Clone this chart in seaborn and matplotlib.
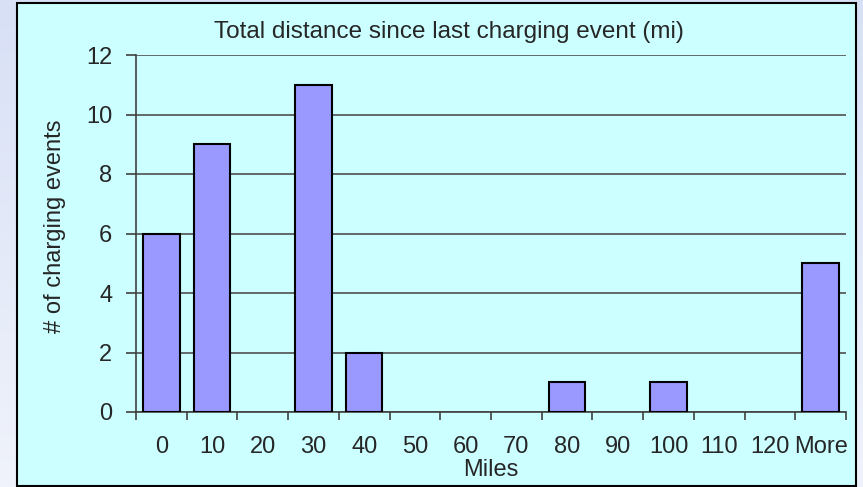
import numpy as np
import pandas as pd
import seaborn as sns
import matplotlib.pyplot as plt
from matplotlib.patches import Rectangle

# Histogram bins and counts
bins = ["0", "10", "20", "30", "40", "50", "60", "70", "80", "90", "100", "110", "120", "More"]
counts = [6, 9, 0, 11, 2, 0, 0, 0, 1, 0, 1, 0, 0, 5]
y_ticks = [0, 2, 4, 6, 8, 10, 12]

df = pd.DataFrame({"bin": bins, "count": counts})

sns.set_style("white")
plt.rcParams["font.family"] = ["Liberation Sans", "DejaVu Sans"]

fig = plt.figure(figsize=(8.63, 4.87), dpi=100)

# Gradient backdrop behind the chart area
bg = fig.add_axes([0, 0, 1, 1], zorder=-10)
grad = np.linspace(0, 1, 256)[:, None]
top_col = np.array([216, 224, 246]) / 255
bot_col = np.array([240, 243, 251]) / 255
img = top_col[None, None, :] * (1 - grad[..., None]) + bot_col[None, None, :] * grad[..., None]
img = np.repeat(img, 4, axis=1)
bg.imshow(img, aspect="auto", extent=[0, 1, 0, 1], origin="upper")
bg.add_patch(Rectangle((17 / 863, 1 / 487), (856 - 17) / 863, 483 / 487,
                       facecolor="#CCFFFF", edgecolor="black", lw=1.5))
bg.set_xlim(0, 1)
bg.set_ylim(0, 1)
bg.axis("off")

ax = fig.add_axes([136 / 863, 1 - 412 / 487, (846 - 136) / 863, (412 - 55) / 487])
ax.set_facecolor("none")

sns.barplot(data=df, x="bin", y="count", color="#9999FF", saturation=1,
            width=0.72, edgecolor="black", linewidth=1.5, ax=ax, zorder=3)
# empty bins show nothing
for p in ax.patches:
    if p.get_height() == 0:
        p.set_visible(False)

ax.set_xlim(-0.5, len(bins) - 0.5)
ax.set_ylim(0, 12)
ax.set_yticks(y_ticks)
ax.yaxis.grid(True, color="#505050", lw=1.2, zorder=0)
ax.set_axisbelow(True)

for s in ["top", "right"]:
    ax.spines[s].set_visible(False)
for s in ["left", "bottom"]:
    ax.spines[s].set_color("#404040")
    ax.spines[s].set_linewidth(1.2)

ax.tick_params(axis="y", direction="out", length=7, width=1.2, color="#404040",
               labelsize=17, pad=10, left=True)
ax.set_xticks(range(len(bins)))
ax.set_xticklabels(bins)
ax.set_xticks(np.arange(-0.5, len(bins)), minor=True)
ax.tick_params(axis="x", which="major", length=0, labelsize=17, pad=17)
ax.tick_params(axis="x", which="minor", direction="out", length=6, width=1.2,
               color="#404040", bottom=True)

ax.set_xlabel("Miles", fontsize=17)
ax.xaxis.label.set_va("center")
ax.xaxis.set_label_coords(0.5, (412 - 470) / 357)
ax.set_ylabel("# of charging events", fontsize=17)
ax.yaxis.label.set_va("center")
ax.yaxis.set_label_coords((55 - 136) / 710, (412 - 226) / 357)
fig.text(449 / 863, 1 - 32 / 487, "Total distance since last charging event (mi)",
         ha="center", va="center", fontsize=17.5)

fig.savefig("out.png", dpi=100)
